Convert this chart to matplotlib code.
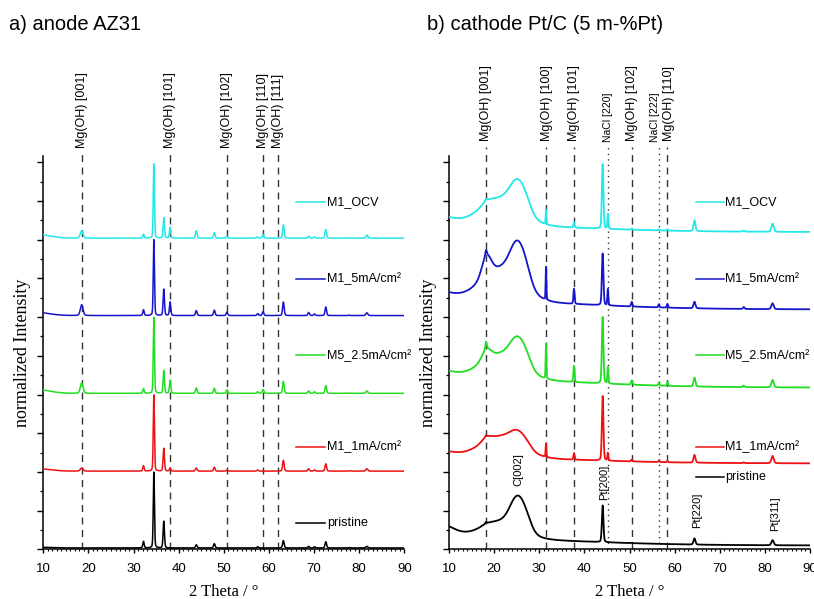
import numpy as np
import matplotlib
matplotlib.use("Agg")
import matplotlib.pyplot as plt

plt.rcParams['font.family'] = ['Liberation Sans', 'DejaVu Sans']

# samples, bottom to top
samples = ['pristine', 'M1_1mA/cm²', 'M5_2.5mA/cm²', 'M1_5mA/cm²', 'M1_OCV']
colors = ['black', '#ee1111', '#22dd22', '#1515cc', '#22e8e8']

# ---- a) anode AZ31: baseline level + Bragg peaks (2theta, fwhm, height per sample)
anode_floor = [0.035, 2.02, 4.03, 6.04, 8.04]
anode_lowangle = [0.02, 0.07, 0.11, 0.09, 0.11]
anode_pos = [18.5, 32.2, 34.5, 36.7, 38.1, 43.9, 47.9, 50.7, 57.5, 58.7, 63.2, 68.8, 70.1, 72.6, 77.8, 81.7]
anode_fwhm = [0.7, 0.35, 0.3, 0.35, 0.35, 0.4, 0.4, 0.4, 0.4, 0.4, 0.4, 0.4, 0.4, 0.4, 0.4, 0.5]
anode_heights = [
    [0.00, 0.17, 1.96, 0.69, 0.00, 0.08, 0.11, 0.00, 0.03, 0.00, 0.19, 0.04, 0.03, 0.16, 0.01, 0.04],
    [0.08, 0.14, 1.97, 0.59, 0.08, 0.08, 0.10, 0.03, 0.03, 0.00, 0.28, 0.06, 0.03, 0.19, 0.01, 0.06],
    [0.27, 0.12, 1.96, 0.59, 0.34, 0.14, 0.13, 0.09, 0.04, 0.10, 0.31, 0.06, 0.04, 0.20, 0.01, 0.06],
    [0.28, 0.15, 1.96, 0.68, 0.35, 0.13, 0.14, 0.09, 0.05, 0.10, 0.35, 0.08, 0.04, 0.22, 0.01, 0.07],
    [0.19, 0.10, 1.92, 0.53, 0.28, 0.19, 0.14, 0.05, 0.03, 0.10, 0.34, 0.05, 0.03, 0.22, 0.01, 0.08],
]
anode_refs = [18.5, 38.0, 50.7, 58.7, 62.0]
anode_ref_labels = ['Mg(OH) [001]', 'Mg(OH) [101]', 'Mg(OH) [102]', 'Mg(OH) [110]', 'Mg(OH) [111]']
anode_label_y = [0.67, 2.65, 5.01, 6.98, 8.97]

# ---- b) cathode Pt/C: broad humps (center, sigma) + Bragg peaks
cathode_floor = [0.10, 2.22, 4.18, 6.20, 8.20]
broad_pos = [8.0, 10.0, 21.5, 25.2, 27.2, 18.3]
broad_sigma = [3.0, 26.0, 4.5, 1.6, 1.2, 1.0]
broad_heights = [
    [0.35, 0.20, 0.45, 0.75, 0.20, 0.03],
    [0.15, 0.17, 0.55, 0.30, 0.10, 0.10],
    [0.20, 0.25, 0.65, 0.60, 0.20, 0.25],
    [0.20, 0.25, 0.85, 0.90, 0.25, 0.50],
    [0.20, 0.20, 0.70, 0.65, 0.20, 0.08],
]
cathode_pos = [18.2, 31.5, 37.7, 44.05, 45.2, 50.5, 56.5, 58.4, 64.4, 75.3, 81.7]
cathode_fwhm = [0.4, 0.2, 0.3, 0.4, 0.25, 0.35, 0.3, 0.3, 0.5, 0.4, 0.6]
cathode_heights = [
    [0.04, 0.00, 0.00, 0.95, 0.00, 0.01, 0.00, 0.00, 0.16, 0.00, 0.13],
    [0.05, 0.35, 0.17, 1.67, 0.20, 0.05, 0.04, 0.03, 0.20, 0.02, 0.19],
    [0.20, 0.90, 0.42, 1.72, 0.42, 0.11, 0.08, 0.10, 0.23, 0.04, 0.19],
    [0.15, 0.85, 0.39, 1.34, 0.42, 0.12, 0.08, 0.10, 0.17, 0.05, 0.15],
    [0.05, 0.37, 0.14, 1.67, 0.38, 0.03, 0.03, 0.04, 0.28, 0.03, 0.21],
]
cathode_refs = [18.2, 31.5, 37.7, 45.2, 50.5, 56.5, 58.4]
cathode_ref_labels = ['Mg(OH) [001]', 'Mg(OH) [100]', 'Mg(OH) [101]', 'NaCl [220]',
                      'Mg(OH) [102]', 'NaCl [222]', 'Mg(OH) [110]']
cathode_ref_label_x = [18.2, 31.7, 37.8, 45.2, 50.6, 55.7, 58.75]
cathode_ref_dotted = [False, False, False, True, False, True, False]
cathode_peak_names = ['C[002]', 'Pt[200]', 'Pt[220]', 'Pt[311]']
cathode_peak_name_x = [25.3, 44.3, 65.0, 82.2]
cathode_peak_name_y = [1.64, 1.27, 0.56, 0.47]
cathode_label_y = [1.86, 2.65, 5.01, 6.98, 8.97]

tt = np.linspace(10, 90, 4001)


def peaks(pos, fwhm, heights):
    y = np.zeros_like(tt)
    for p, w, h in zip(pos, fwhm, heights):
        g = np.exp(-4 * np.log(2) * ((tt - p) / w) ** 2)
        l = 1 / (1 + 4 * ((tt - p) / w) ** 2)
        y += h * (0.75 * g + 0.25 * l)
    return y


def humps(pos, sig, heights):
    y = np.zeros_like(tt)
    for p, s, h in zip(pos, sig, heights):
        y += h * np.exp(-0.5 * ((tt - p) / s) ** 2)
    return y


fig = plt.figure(figsize=(8.14, 5.99), dpi=100)
W, H = 814, 599
axL = fig.add_axes([43.3 / W, 49.7 / H, 361 / W, 392.8 / H])
axR = fig.add_axes([449 / W, 49.7 / H, 361 / W, 392.8 / H])
ytop = 10.15

for ax in (axL, axR):
    ax.set_xlim(10, 90)
    ax.set_ylim(0, ytop)
    ax.spines['top'].set_visible(False)
    ax.spines['right'].set_visible(False)
    ax.spines['left'].set_linewidth(1.1)
    ax.spines['bottom'].set_linewidth(1.1)
    ax.set_xticks(np.arange(10, 91, 10))
    ax.set_xticks(np.arange(10, 91, 1), minor=True)
    ax.set_yticks(np.arange(0, 11, 1))
    ax.set_yticks(np.arange(0.5, 10.2, 1), minor=True)
    ax.tick_params(axis='y', which='major', length=4.3, width=1.0, labelleft=False)
    ax.tick_params(axis='y', which='minor', length=2.2, width=0.9)
    ax.tick_params(axis='x', which='major', length=3.2, width=1.0, pad=7, labelsize=9.5)
    ax.tick_params(axis='x', which='minor', length=1.6, width=0.8)
    ax.set_xlabel('2 Theta / °', family='Liberation Serif', fontsize=12, labelpad=6)
    ax.set_ylabel('normalized Intensity', family='Liberation Serif', fontsize=13, labelpad=3)

# a) anode
for i in range(len(samples)):
    y = anode_floor[i] + humps([8.0], [3.0], [anode_lowangle[i]]) + peaks(anode_pos, anode_fwhm, anode_heights[i])
    axL.plot(tt, y, color=colors[i], lw=1.1, zorder=3)
    axL.plot([66.0, 72.4], [anode_label_y[i]] * 2, color=colors[i], lw=1.1)
    axL.text(72.8, anode_label_y[i], samples[i], va='center', ha='left', fontsize=9)

for x, lab in zip(anode_refs, anode_ref_labels):
    axL.axvline(x, ymin=0, ymax=10.27 / ytop, color='#333333', lw=1.0, dashes=(5, 4), clip_on=False, zorder=2)
    axL.text(x, 10.37, lab, rotation=90, ha='center', va='bottom', fontsize=9)

# b) cathode
for i in range(len(samples)):
    y = (cathode_floor[i] + humps(broad_pos, broad_sigma, broad_heights[i])
         + peaks(cathode_pos, cathode_fwhm, cathode_heights[i]))
    axR.plot(tt, y, color=colors[i], lw=1.3, zorder=3)
    axR.plot([64.7, 70.9], [cathode_label_y[i]] * 2, color=colors[i], lw=1.1)
    axR.text(71.2, cathode_label_y[i], samples[i], va='center', ha='left', fontsize=9)

for x, lx, lab, dot in zip(cathode_refs, cathode_ref_label_x, cathode_ref_labels, cathode_ref_dotted):
    if dot:
        axR.axvline(x, ymin=0, ymax=10.45 / ytop, color='#333333', lw=1.0, dashes=(1, 3), clip_on=False, zorder=2)
        axR.text(lx, 10.53, lab, rotation=90, ha='center', va='bottom', fontsize=7.5)
    else:
        axR.axvline(x, ymin=0, ymax=10.40 / ytop, color='#333333', lw=1.0, dashes=(5, 4), clip_on=False, zorder=2)
        axR.text(lx, 10.55, lab, rotation=90, ha='center', va='bottom', fontsize=9)

for x, yb, lab in zip(cathode_peak_name_x, cathode_peak_name_y, cathode_peak_names):
    axR.text(x, yb, lab, rotation=90, ha='center', va='bottom', fontsize=8)

fig.text(9 / W, 1 - 29.5 / H, 'a) anode AZ31', fontsize=14.5, va='baseline', ha='left')
fig.text(426.7 / W, 1 - 29.5 / H, 'b) cathode Pt/C (5 m-%Pt)', fontsize=14.5, va='baseline', ha='left')

fig.savefig('out.png', dpi=100)
